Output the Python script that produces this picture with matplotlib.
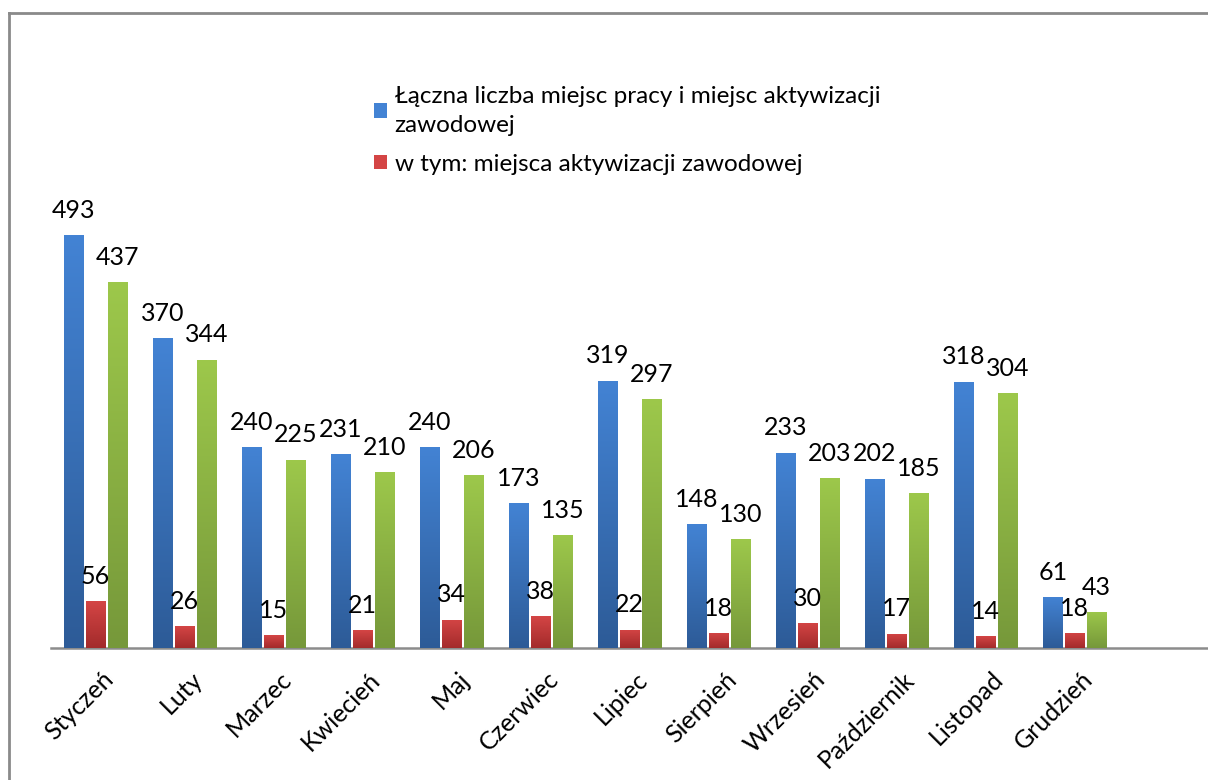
import numpy as np
import matplotlib.pyplot as plt
from matplotlib.lines import Line2D
from matplotlib.colors import LinearSegmentedColormap
import matplotlib.transforms as mtransforms

plt.rcParams['font.family'] = ['Lato', 'DejaVu Sans']

##========================================
# Data
##========================================
months = ['Styczeń', 'Luty', 'Marzec', 'Kwiecień', 'Maj', 'Czerwiec', 'Lipiec',
          'Sierpień', 'Wrzesień', 'Październik', 'Listopad', 'Grudzień']
total_jobs = [493, 370, 240, 231, 240, 173, 319, 148, 233, 202, 318, 61]
activation = [56, 26, 15, 21, 34, 38, 22, 18, 30, 17, 14, 18]
third_series = [437, 344, 225, 210, 206, 135, 297, 130, 203, 185, 304, 43]

label_total = 'Łączna liczba miejsc pracy i miejsc aktywizacji\nzawodowej'
label_activation = 'w tym: miejsca aktywizacji zawodowej'

##========================================
# Figure
##========================================
W, H = 1208, 780
fig = plt.figure(figsize=(W / 100, H / 100), dpi=100)

x0, x1 = 51, 1208
y_base = 648
px_per_unit = (648 - 235) / 493.0
ymax = 600
ax = fig.add_axes([x0 / W, (H - y_base) / H, (x1 - x0) / W, ymax * px_per_unit / H])

x = np.arange(len(months))
bw = 0.215
step = 0.245

colors = [('#4383D4', '#2D5B97'), ('#D44545', '#A32B2B'), ('#9DC84B', '#76983A')]
series = [total_jobs, activation, third_series]

containers = []
for i, (vals, (ctop, cbot)) in enumerate(zip(series, colors)):
    bars = ax.bar(x + (i - 1) * step, vals, width=bw, color=ctop, zorder=2)
    containers.append(bars)
    cmap = LinearSegmentedColormap.from_list('g%d' % i, [cbot, ctop])
    grad = np.linspace(0, 1, 256).reshape(-1, 1)
    for b in bars:
        im = ax.imshow(grad, cmap=cmap, origin='lower', aspect='auto',
                       extent=[b.get_x(), b.get_x() + b.get_width(), 0, b.get_height()],
                       zorder=3)
        im.set_clip_path(b)

# value labels
for bars in containers:
    for b in bars:
        ax.annotate('%d' % b.get_height(),
                    (b.get_x() + b.get_width() / 2, b.get_height()),
                    xytext=(0, 12.5), textcoords='offset points',
                    ha='center', va='baseline', fontsize=18, color='black')

ax.set_xlim(-0.5, 12.5)
ax.set_ylim(0, ymax)

for s in ['left', 'right', 'top']:
    ax.spines[s].set_visible(False)
ax.spines['bottom'].set_color('#8C8C8C')
ax.spines['bottom'].set_linewidth(1.8)
ax.set_yticks([])
ax.set_xticks(x)
ax.set_xticklabels(months, rotation=45, ha='right', va='top',
                   rotation_mode='anchor', fontsize=18)
ax.tick_params(axis='x', length=0, pad=14)
offset = mtransforms.ScaledTranslation(6 / 100, 0, fig.dpi_scale_trans)
for lab in ax.get_xticklabels():
    lab.set_transform(lab.get_transform() + offset)

# legend (only first two series)
leg = fig.legend([containers[0], containers[1]], [label_total, label_activation],
                 loc='upper left', bbox_to_anchor=(352 / W, 1 - 64 / H),
                 frameon=False, fontsize=17.5, handlelength=0.55, handleheight=0.55,
                 handletextpad=0.3, labelspacing=0.75)
for t in leg.get_texts():
    t.set_linespacing(1.45)

# outer frame (top and left edges)
fig.add_artist(Line2D([9 / W, 9 / W], [0, 1 - 13 / H], transform=fig.transFigure,
                      color='#8A8A8A', lw=2))
fig.add_artist(Line2D([9 / W, 1], [1 - 13 / H, 1 - 13 / H], transform=fig.transFigure,
                      color='#8A8A8A', lw=2))

plt.savefig('out.png', dpi=100)
